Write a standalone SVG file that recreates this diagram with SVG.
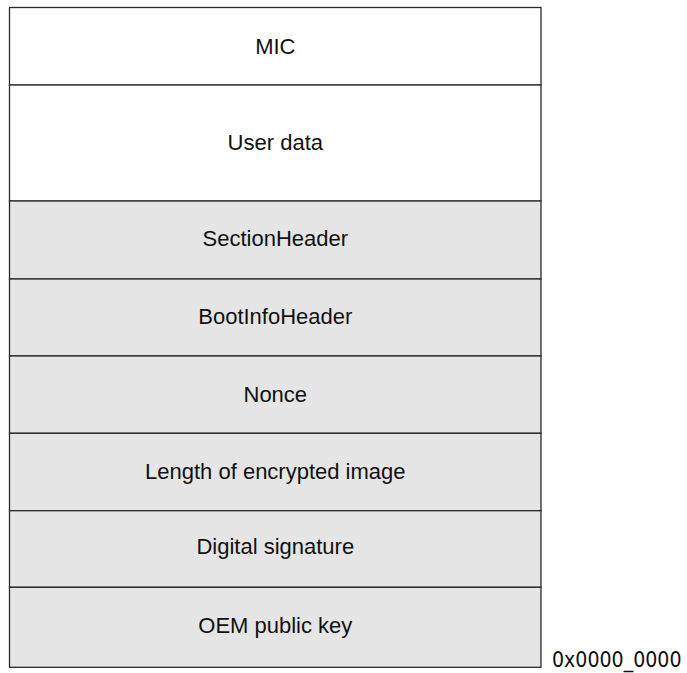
<svg xmlns="http://www.w3.org/2000/svg" width="687" height="673" viewBox="0 0 687 673">
  <style>
    .cell { stroke: #2a2a2a; stroke-width: 1.3; }
    .plain { fill: #ffffff; }
    .shaded { fill: #e5e5e5; }
    .lbl { font-family: "Liberation Sans", Arial, sans-serif; font-size: 22px; fill: #111111; text-anchor: middle; }
    .addr { font-family: "DejaVu Sans", Verdana, sans-serif; font-size: 20.5px; fill: #111111; }
  </style>
  <rect width="687" height="673" fill="#ffffff"/>

  <!-- image layout, top to bottom -->
  <g id="mic">
    <rect class="cell plain" x="9.5" y="7.5" width="531.5" height="77.5"/>
    <text class="lbl" x="275.3" y="54">MIC</text>
  </g>
  <g id="user-data">
    <rect class="cell plain" x="9.5" y="85" width="531.5" height="116"/>
    <text class="lbl" x="275.3" y="150">User data</text>
  </g>
  <g id="section-header">
    <rect class="cell shaded" x="9.5" y="201" width="531.5" height="78"/>
    <text class="lbl" x="275.3" y="245.7">SectionHeader</text>
  </g>
  <g id="boot-info-header">
    <rect class="cell shaded" x="9.5" y="279" width="531.5" height="77"/>
    <text class="lbl" x="275.3" y="324">BootInfoHeader</text>
  </g>
  <g id="nonce">
    <rect class="cell shaded" x="9.5" y="356" width="531.5" height="77.3"/>
    <text class="lbl" x="275.3" y="401.7">Nonce</text>
  </g>
  <g id="encrypted-length">
    <rect class="cell shaded" x="9.5" y="433.3" width="531.5" height="77.4"/>
    <text class="lbl" x="275.3" y="479.3">Length of encrypted image</text>
  </g>
  <g id="digital-signature">
    <rect class="cell shaded" x="9.5" y="510.7" width="531.5" height="76.6"/>
    <text class="lbl" x="275.3" y="554.3">Digital signature</text>
  </g>
  <g id="oem-public-key">
    <rect class="cell shaded" x="9.5" y="587.3" width="531.5" height="80"/>
    <text class="lbl" x="275.3" y="633.3">OEM public key</text>
  </g>

  <g id="connectors"></g>

  <g id="base-address">
    <text class="addr" x="552" y="667" textLength="129.5" lengthAdjust="spacingAndGlyphs">0x0000_0000</text>
  </g>
</svg>
